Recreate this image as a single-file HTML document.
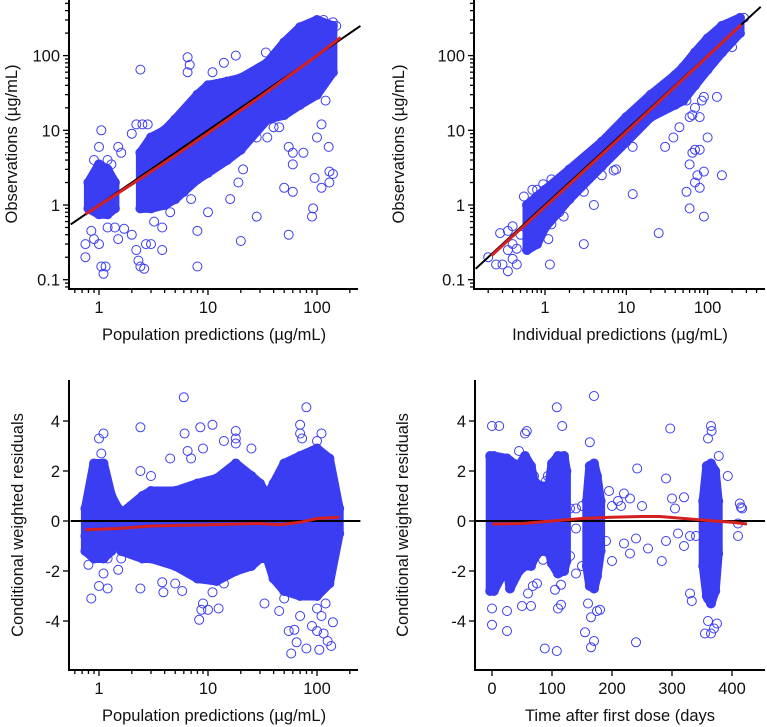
<!DOCTYPE html>
<html><head><meta charset="utf-8"><style>
html,body{margin:0;padding:0;background:#fff;}
svg{display:block;font-family:"Liberation Sans",sans-serif;}
</style></head><body>
<svg id="fig" width="767" height="727" viewBox="0 0 767 727" xmlns="http://www.w3.org/2000/svg"></svg>
<script>
// ---------- DATA ----------
const aBandMainX=[2.4,3,4,5,8,10,15,20,35,50,70,100,140];
const aBandMainHi=[5,8,10,14,30,40,45,50,80,150,240,300,250];
const aBandMainLo=[0.9,0.9,1.0,1.2,2.2,2.7,4,5.5,14,16,22,30,60];
const aBandSmallX=[0.8,1,1.2,1.4];
const aBandSmallHi=[2,3.5,3,2];
const aBandSmallLo=[0.9,0.75,0.75,0.9];
const aPtsX=[2.4,6.5,6.5,6.8,11,14,18,1.05,1,1.5,0.9,1.2,1.3,1.6,2,2.2,2.5,2.8,0.75,0.75,0.85,0.9,1.05,1.1,1.15,1.0,1.2,1.4,1.5,1.7,2,2.2,2.3,2.4,2.6,2.7,3,3.2,3.8,3.8,4.5,5,6,7,8,8,10,16,20,19,21,28,55,50,60,60,55,60,75,90,92,95,110,130,140,130,128,100,110,120,35,40,45,30,28,25,27,34,35,50,80,95,115,140,150];
const aPtsY=[65,95,60,75,60,80,100,10,6,6,4,4,3.5,5,9,12,12,12,0.3,0.2,0.45,0.35,0.15,0.12,0.15,0.3,0.5,0.5,0.35,0.48,0.4,0.25,0.18,0.15,0.14,0.3,0.3,0.6,0.25,0.5,0.8,1.2,1.5,1.2,0.45,0.15,0.8,1.2,0.33,2,3,0.7,0.4,1.7,1.5,3.5,6,5,5,0.7,0.9,2.3,1.7,2,2.6,2.8,6,8,12,25,8,11,11,13,8,25,40,110,60,130,220,280,300,280,250];
const aLoessX=[0.75,2,5,10,30,100,165];
const aLoessY=[0.75,1.9,4.6,9.2,28,100,175];
const bBandX=[0.6,0.8,1,2,5,10,20,40,50,70,100,150,250];
const bBandLo=[0.25,0.3,0.5,1.2,3.3,7,15,22,25,40,65,110,200];
const bBandHi=[1.0,1.3,1.6,3.0,7,15,30,55,70,110,170,250,320];
const bPtsX=[0.2,0.25,0.3,0.35,0.35,0.4,0.4,0.28,0.35,0.45,0.45,0.4,0.5,0.55,0.7,0.8,0.95,1.2,1.2,1.3,1.1,1.15,1.5,1.7,2,3,3,4,5,7,7.5,12,12,25,30,38,45,55,60,65,70,80,85,90,100,65,70,80,60,70,80,75,90,150,60,90,55,130,200,280];
const bPtsY=[0.2,0.16,0.16,0.13,0.25,0.3,0.52,0.42,0.45,0.16,0.26,0.19,0.4,1.3,1.6,1.6,1.9,2.2,0.55,0.8,0.35,0.16,0.8,0.7,1.2,1.5,0.3,1,2.5,2.9,3,1.4,6,0.42,6,8,11,25,15,16,20,15,25,28,8,5,5.5,5.5,3.5,2,1.7,2.5,2.8,2.5,0.9,0.7,1.5,28,130,320];
const bLoessX=[0.22,1,10,100,260];
const bLoessY=[0.21,0.95,9.5,98,260];
const cBandSmallX=[0.75,0.9,1.1,1.3,1.5];
const cBandSmallHi=[0.5,2.3,2.3,1,0.5];
const cBandSmallLo=[-1.2,-1.5,-1.5,-1.2,-0.5];
const cBandMainX=[1.6,2.5,3,5,8,12,18,25,30,35,40,50,70,100,130,160];
const cBandMainHi=[0.3,1.0,1.2,1.2,1.5,1.7,2.3,1.8,1.5,1.0,1.5,2.3,2.6,2.9,2.5,0.5];
const cBandMainLo=[-1.2,-1.5,-1.5,-1.8,-2.3,-2.4,-2,-1.8,-1.5,-1.5,-2.3,-2.8,-3,-3,-2.5,-0.5];
const cPtsX=[6,2.4,8.5,11,6.1,1.1,1.0,1.05,14,18,18,18,25,9,6.5,7,4.5,2.4,3,80,70,70,73,100,110,0.85,0.8,1.1,1.0,1.2,1.5,2.4,3.8,3.9,5,5.8,8.3,8.7,9,10,11,12.5,14,33,45,55,58,62,65,80,90,100,105,115,125,135,140,110,50,70,100,120,1.2,0.75,1.6];
const cPtsY=[4.95,3.75,3.75,3.85,3.5,3.5,3.3,2.7,3.2,3.6,3.3,3.1,2.9,2.9,2.8,2.5,2.5,2,1.8,4.55,3.85,3.5,3.3,3.2,3.5,-3.1,-1.75,-2.1,-2.6,-2.7,-1.95,-2.7,-2.45,-2.85,-2.5,-2.8,-3.95,-3.55,-3.3,-3.55,-2.85,-3.5,-2.5,-3.3,-3.6,-4.4,-5.3,-4.35,-4.85,-5.1,-4.2,-4.4,-5.15,-4.5,-4.8,-5,-4.05,-3.8,-3.1,-3.8,-3.5,-3.3,-1.5,-0.6,-1.5];
const cLoessX=[0.75,1.5,3,10,30,45,70,100,160];
const cLoessY=[-0.35,-0.3,-0.2,-0.15,-0.1,-0.15,-0.05,0.1,0.15];
const dBandAX=[-3,3,25,30,45,55,65,70,80,95,100,110,120,124];
const dBandAHi=[2.6,2.6,2.5,2.4,2.2,2.6,2.2,1.6,1.4,1.4,2.3,2.6,2.6,2.0];
const dBandALo=[-2.8,-2.8,-1.8,-2.7,-2,-1.8,-1.8,-1.5,-1.2,-1.2,-1.7,-2.1,-2,-1.6];
const dBandBX=[158,163,170,175,181];
const dBandBHi=[0.8,2.2,2.3,1.8,0.8];
const dBandBLo=[-1.8,-2.6,-2.7,-2.2,-1.2];
const dBandCX=[352,358,365,372,377];
const dBandCHi=[0.8,2.2,2.3,2,0.8];
const dBandCLo=[-1.8,-3.0,-3.3,-2.8,-1.3];
const dPtsX=[108,170,117,297,163,55,58,0,12,45,365,366,360,378,393,242,290,300,320,305,413,415,417,410,410,250,210,220,230,195,200,215,170,150,140,130,140,150,140,130,190,200,220,230,240,260,283,290,310,320,330,333,330,340,88,108,240,155,170,165,160,165,175,180,355,360,365,370,375,0,25,25,50,65,60,68,85,105,110,115,115,360,0,75,80,90,93,70];
const dPtsY=[4.55,5,3.8,3.7,3.15,3.5,3.6,3.8,3.8,2.8,3.8,3.6,3.3,2.6,1.8,2.1,1.7,0.9,0.95,0.5,0.7,0.55,0.5,-0.1,-0.6,0.6,0.8,1.1,0.9,1.2,0.6,0.6,1.2,0.6,0.5,0.5,-0.3,-1.8,-2.1,-1.4,-0.8,-1.6,-0.9,-1.3,-0.7,-1.1,-1.6,-0.8,-0.5,-1,-2.9,-3.2,-0.6,-0.6,-5.1,-5.2,-4.85,-4.45,-4.8,-5.05,-3.3,-3.85,-3.6,-3.55,-4.5,-4,-4.5,-4.3,-4.1,-4.15,-4.4,-3.6,-3.4,-3.4,-2.9,-2.6,-1.55,-2.75,-3.5,-3.35,-2.55,-3.1,-3.5,-2.5,-1.2,1.6,1.8,1.8];
const dLoessX=[0,50,100,150,200,250,280,320,360,400,425];
const dLoessY=[-0.12,-0.1,0,0.1,0.15,0.18,0.18,0.1,0.02,-0.05,-0.12];
const logTicks=[0.1,1,10,100];
const logTickLabels=["0.1","1","10","100"];
const resTicks=[-4,-2,0,2,4];
const timeTicks=[0,100,200,300,400];

// ---------- DRAWING ----------
const NS="http://www.w3.org/2000/svg";
const svg=document.getElementById('fig');
const BLUE="#3b3df2";
const FS=16.5;
function mk(tag,attrs,parent){const e=document.createElementNS(NS,tag);for(const k in attrs)e.setAttribute(k,attrs[k]);(parent||svg).appendChild(e);return e;}
function logScale(v1p,p1,pxPerDec){return v=>p1+Math.log10(v/v1p)*pxPerDec;}
function linScale(v0,p0,pxPerUnit){return v=>p0+(v-v0)*pxPerUnit;}

function band(g,sx,sy,xs,lo,hi,name){
  let d='';
  for(let i=0;i<xs.length;i++)d+=(i?'L':'M')+sx(xs[i]).toFixed(1)+','+sy(hi[i]).toFixed(1);
  for(let i=xs.length-1;i>=0;i--)d+='L'+sx(xs[i]).toFixed(1)+','+sy(lo[i]).toFixed(1);
  d+='Z';
  const p=mk('path',{d:d,fill:BLUE,stroke:BLUE,'stroke-width':9,'stroke-linejoin':'round'},g);
  
  
  // fuzzy edge circles along band boundary
  for(let i=0;i<xs.length;i++){
    [hi[i],lo[i]].forEach(v=>{
      const c=mk('circle',{cx:sx(xs[i]).toFixed(1),cy:sy(v).toFixed(1),r:4.5,fill:'none',stroke:BLUE,'stroke-width':1},g);
      
      
    });
  }
}
function points(g,sx,sy,xs,ys,name){
  for(let i=0;i<xs.length;i++){
    const c=mk('circle',{cx:sx(xs[i]).toFixed(1),cy:sy(ys[i]).toFixed(1),r:4.5,fill:'none',stroke:BLUE,'stroke-width':1},g);
    
    
  }
}
function line(g,sx,sy,xs,ys,color,w,name){
  const pts=xs.map((x,i)=>sx(x).toFixed(1)+','+sy(ys[i]).toFixed(1)).join(' ');
  const l=mk('polyline',{points:pts,fill:'none',stroke:color,'stroke-width':w,'stroke-linejoin':'round'},g);
  
  
}
function text(g,x,y,s,anchor,name,rot){
  const t=mk('text',{x:x,y:y,'font-size':FS,'text-anchor':anchor,fill:'#111'},g);
  if(rot)t.setAttribute('transform','rotate(-90 '+x+' '+y+')');
  t.textContent=s;
  
  
}
function axes(g,ax,ay,top,right){
  const a=mk('path',{d:`M${ax},${top}V${ay}H${right}`,fill:'none',stroke:'#000','stroke-width':2},g);
  
  
}
function logXTicks(g,sx,ay,lo,hi){
  for(let d=-2;d<=3;d++)for(let m=1;m<10;m++){
    const v=m*Math.pow(10,d);if(v<lo||v>hi)continue;
    const x=sx(v);const len=m===1?6:4;
    mk('line',{x1:x,x2:x,y1:ay,y2:ay+len,stroke:'#000','stroke-width':1.3},g);
  }
  logTicks.forEach((v,i)=>{if(v>=lo&&v<=hi)text(g,sx(v),ay+24,logTickLabels[i],'middle','x-tick-label');});
}
function logYTicks(g,sy,ax,lo,hi){
  for(let d=-2;d<=3;d++)for(let m=1;m<10;m++){
    const v=m*Math.pow(10,d);if(v<lo||v>hi)continue;
    const y=sy(v);const len=m===1?6:4;
    mk('line',{x1:ax-len,x2:ax,y1:y,y2:y,stroke:'#000','stroke-width':1.3},g);
  }
  logTicks.forEach((v,i)=>text(g,ax-9,sy(v)+6,logTickLabels[i],'end','y-tick-label'));
}
function linYTicks(g,sy,ax){
  resTicks.forEach(v=>{const y=sy(v);mk('line',{x1:ax-6,x2:ax,y1:y,y2:y,stroke:'#000','stroke-width':1.3},g);text(g,ax-9,y+6,String(v),'end','y-tick-label');});
}

(function(){
  const g=mk('g',{});
  const sx=logScale(1,99,109),sy=v=>205-Math.log10(v)*74.7;
  band(g,sx,sy,aBandMainX,aBandMainLo,aBandMainHi,'dense-points-main');
  band(g,sx,sy,aBandSmallX,aBandSmallLo,aBandSmallHi,'dense-points-low');
  points(g,sx,sy,aPtsX,aPtsY,'observation-point');
  line(g,sx,sy,[0.55,250],[0.55,250],'#000',2,'identity-line');
  line(g,sx,sy,aLoessX,aLoessY,'#d42020',3,'loess-trend');
  axes(g,69,289,0,358);
  logYTicks(g,sy,69,0.08,500);
  logXTicks(g,sx,289,0.6,250);
  text(g,214,340,'Population predictions (µg/mL)','middle','x-axis-title');
  text(g,17,144,'Observations (µg/mL)','middle','y-axis-title',true);
})();
(function(){
  const g=mk('g',{});
  const sx=logScale(1,545,81.3),sy=v=>205-Math.log10(v)*74.7;
  band(g,sx,sy,bBandX,bBandLo,bBandHi,'dense-points');
  points(g,sx,sy,bPtsX,bPtsY,'observation-point');
  line(g,sx,sy,[0.14,450],[0.14,450],'#000',2,'identity-line');
  line(g,sx,sy,bLoessX,bLoessY,'#d42020',3,'loess-trend');
  axes(g,474,289,0,765);
  logYTicks(g,sy,474,0.08,500);
  logXTicks(g,sx,289,0.15,450);
  text(g,620,340,'Individual predictions (µg/mL)','middle','x-axis-title');
  text(g,404,144,'Observations (µg/mL)','middle','y-axis-title',true);
})();
(function(){
  const g=mk('g',{});
  const sx=logScale(1,99,109),sy=linScale(0,521,-25);
  band(g,sx,sy,cBandMainX,cBandMainLo,cBandMainHi,'dense-points-main');
  band(g,sx,sy,cBandSmallX,cBandSmallLo,cBandSmallHi,'dense-points-low');
  points(g,sx,sy,cPtsX,cPtsY,'residual-point');
  line(g,sx,sy,[0.55,250],[0,0],'#000',2,'zero-line');
  line(g,sx,sy,cLoessX,cLoessY,'#d42020',3,'loess-trend');
  axes(g,69,670,380,358);
  linYTicks(g,sy,69);
  logXTicks(g,sx,670,0.6,250);
  text(g,214,721,'Population predictions (µg/mL)','middle','x-axis-title');
  text(g,23,525,'Conditional weighted residuals','middle','y-axis-title',true);
})();
(function(){
  const g=mk('g',{});
  const sx=linScale(0,492,0.6),sy=linScale(0,521,-25);
  band(g,sx,sy,dBandAX,dBandALo,dBandAHi,'dense-points-early');
  band(g,sx,sy,dBandBX,dBandBLo,dBandBHi,'dense-points-day170');
  band(g,sx,sy,dBandCX,dBandCLo,dBandCHi,'dense-points-day365');
  points(g,sx,sy,dPtsX,dPtsY,'residual-point');
  line(g,sx,sy,[-28,455],[0,0],'#000',2,'zero-line');
  line(g,sx,sy,dLoessX,dLoessY,'#d42020',3,'loess-trend');
  axes(g,475,670,380,765);
  linYTicks(g,sy,475);
  timeTicks.forEach(v=>{const x=sx(v);mk('line',{x1:x,x2:x,y1:670,y2:676,stroke:'#000','stroke-width':1.3},g);text(g,x,694,String(v),'middle','x-tick-label');});
  text(g,620,721,'Time after first dose (days','middle','x-axis-title');
  text(g,408,525,'Conditional weighted residuals','middle','y-axis-title',true);
})();
</script>
</body></html>
